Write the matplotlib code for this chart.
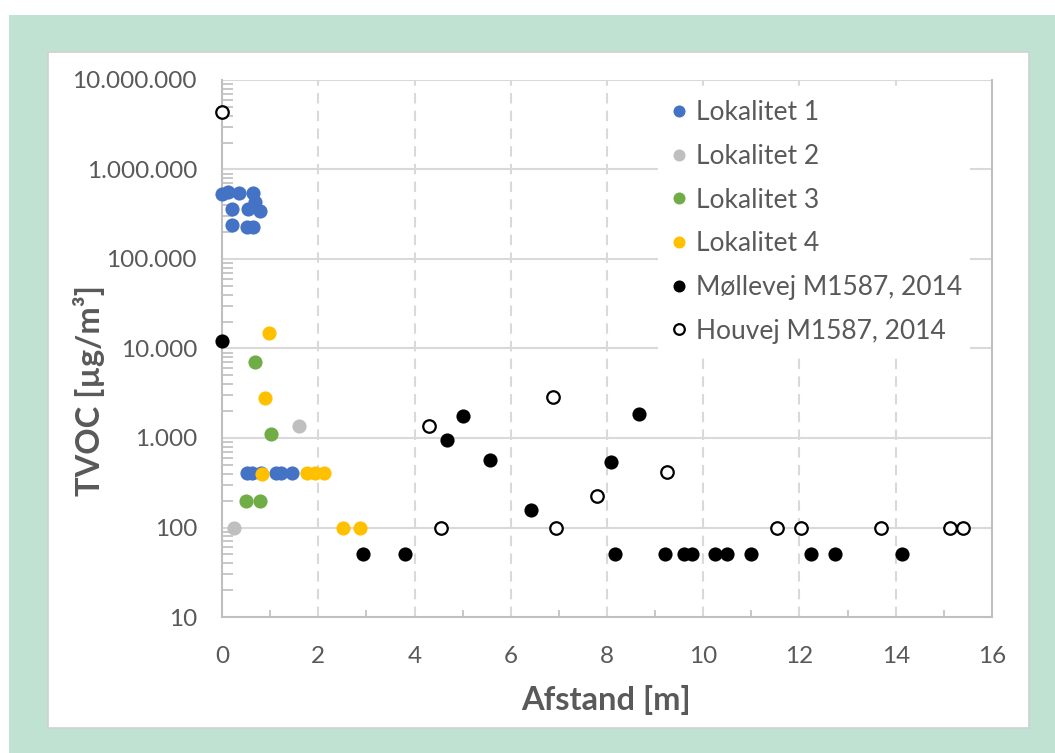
import matplotlib
matplotlib.use("Agg")
import matplotlib.pyplot as plt
from matplotlib.patches import Rectangle
from matplotlib.ticker import FixedLocator, FuncFormatter, LogLocator, NullFormatter

plt.rcParams['font.family'] = ['Lato', 'DejaVu Sans']

# TVOC-målinger mod afstand
lok1_x = [0.00, 0.12, 0.35, 0.65, 0.20, 0.54, 0.69, 0.79, 0.20, 0.52, 0.65,
          0.52, 0.62, 0.82, 1.12, 1.22, 1.45]
lok1_y = [532000, 565000, 542000, 542000, 359000, 359000, 430000, 340000, 240000, 230000, 230000,
          410, 410, 410, 410, 410, 410]

lok2_x = [0.24, 1.60]
lok2_y = [100, 1350]

lok3_x = [0.69, 1.02, 0.49, 0.78]
lok3_y = [7000, 1100, 200, 200]

lok4_x = [0.98, 0.90, 0.83, 1.76, 1.94, 2.11, 2.52, 2.86]
lok4_y = [15000, 2800, 400, 410, 410, 410, 100, 100]

moellevej_x = [0.00, 2.94, 3.81, 4.67, 5.01, 5.56, 6.42, 8.09, 8.16, 8.67, 9.20,
               9.61, 9.76, 10.24, 10.50, 10.99, 12.23, 12.73, 14.14]
moellevej_y = [12000, 50, 50, 950, 1750, 570, 155, 540, 50, 1850, 50,
               50, 50, 50, 50, 50, 50, 50, 50]

houvej_x = [0.00, 4.30, 4.56, 6.88, 6.93, 7.80, 9.24, 11.53, 12.03, 13.69, 15.13, 15.39]
houvej_y = [4400000, 1350, 100, 2900, 100, 225, 420, 100, 100, 100, 100, 100]

W, H = 1055, 753
tekst_farve = '#595959'
gitter_farve = '#D9D9D9'

fig = plt.figure(figsize=(W / 100, H / 100), dpi=100)
fig.patch.set_facecolor('white')

# grøn ramme og hvidt diagramområde
fig.add_artist(Rectangle((9 / W, 0), (W - 9) / W, (H - 15) / H,
                         transform=fig.transFigure, facecolor='#C0E2D3', edgecolor='none', zorder=-10))
fig.add_artist(Rectangle((48 / W, 25 / H), (1029 - 48) / W, (701 - 25) / H,
                         transform=fig.transFigure, facecolor='white', edgecolor='#D0D0D0',
                         linewidth=1.2, zorder=-9))

ax = fig.add_axes([222 / W, (H - 617) / H, 770 / W, 537 / H])
ax.set_facecolor('none')

ms = 10.2
punkt = dict(ls='none', marker='o', ms=ms, clip_on=False, zorder=3)
ax.plot(lok1_x, lok1_y, color='#4472C4', mec='none', label='Lokalitet 1', **punkt)
ax.plot(lok2_x, lok2_y, color='#BFBFBF', mec='none', label='Lokalitet 2', **punkt)
ax.plot(lok3_x, lok3_y, color='#70AD47', mec='none', label='Lokalitet 3', **punkt)
ax.plot(lok4_x, lok4_y, color='#FFC000', mec='none', label='Lokalitet 4', **punkt)
ax.plot(moellevej_x, moellevej_y, color='black', mec='none',
        label='Møllevej M1587, 2014', **punkt)
ax.plot(houvej_x, houvej_y, ls='none', marker='o', mfc='white', mec='black', mew=1.6, ms=ms - 1.2,
        clip_on=False, zorder=3, label='Houvej M1587, 2014')

ax.set_yscale('log')
ax.set_ylim(10, 1e7)
ax.set_xlim(0, 16)

ax.xaxis.set_major_locator(FixedLocator(range(0, 17, 2)))
ax.xaxis.set_minor_locator(FixedLocator(range(1, 16, 2)))
ax.yaxis.set_major_locator(LogLocator(base=10, numticks=10))
ax.yaxis.set_minor_locator(LogLocator(base=10, subs=range(2, 10), numticks=20))
ax.yaxis.set_minor_formatter(NullFormatter())
ax.yaxis.set_major_formatter(FuncFormatter(lambda v, p: f"{int(round(v)):,}".replace(",", ".")))

ax.tick_params(axis='both', which='major', length=0, labelsize=17.5, labelcolor=tekst_farve)
ax.tick_params(axis='y', which='major', pad=18)
ax.tick_params(axis='x', which='major', pad=21)
ax.tick_params(axis='x', which='minor', direction='in', length=5, width=1.2, color='#BFBFBF')
ax.tick_params(axis='y', which='minor', direction='in', length=8, width=1.2, color='#BFBFBF')

# vandrette gitterlinjer fuldt optrukket, lodrette stiplede
for v in [1e2, 1e3, 1e4, 1e5, 1e6, 1e7]:
    ax.axhline(v, color=gitter_farve, lw=1.5, zorder=0)
for v in range(2, 16, 2):
    ax.axvline(v, color=gitter_farve, lw=1.5, ls=(0, (5, 3.5)), zorder=0)

ax.spines['top'].set_visible(False)
for side in ['left', 'bottom', 'right']:
    ax.spines[side].set_color('#BFBFBF')
    ax.spines[side].set_linewidth(1.5)

fig.text(606.5 / W, 1 - 700 / H, 'Afstand [m]', fontsize=23.5, fontweight='bold',
         color=tekst_farve, ha='center', va='center')
fig.text(89 / W, 1 - 390 / H, 'TVOC [µg/m³]', fontsize=23.5, fontweight='bold',
         color=tekst_farve, ha='center', va='center', rotation=90)

leg = ax.legend(loc='upper left', bbox_to_anchor=(0.5485, 1.002), fontsize=19, frameon=True,
                facecolor='white', edgecolor='none', framealpha=1, fancybox=False,
                handletextpad=0.15, labelspacing=0.71, markerscale=0.85, borderpad=0.3,
                handlelength=1.0, labelcolor=tekst_farve)
leg.set_zorder(5)

fig.savefig('out.png', dpi=100)
